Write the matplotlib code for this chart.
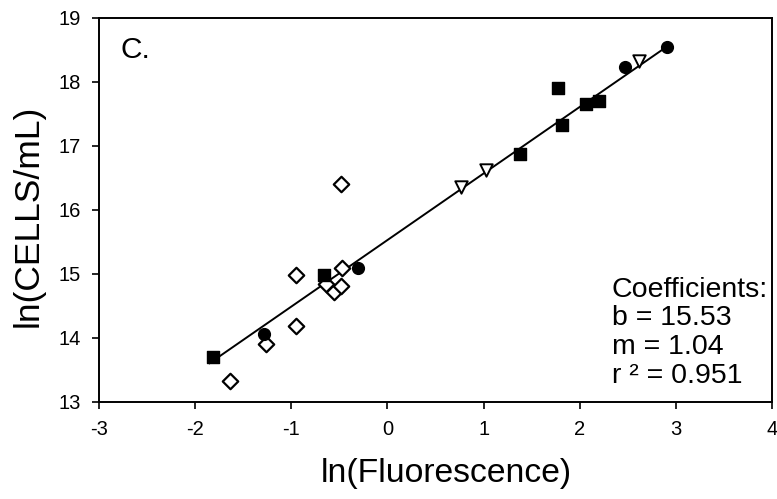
import matplotlib
matplotlib.use("Agg")
import matplotlib.pyplot as plt
import numpy as np

plt.rcParams['font.family'] = ['Liberation Sans', 'DejaVu Sans']
plt.rcParams['axes.unicode_minus'] = False

# data series (ln fluorescence, ln cells/mL)
sq_x = [-1.81, -0.66, 1.38, 1.77, 1.82, 2.07, 2.20]
sq_y = [13.70, 14.99, 16.87, 17.91, 17.32, 17.66, 17.70]

circ_x = [-1.28, -0.31, 2.47, 2.91]
circ_y = [14.06, 15.10, 18.23, 18.54]

tri_x = [0.76, 1.03, 2.62]
tri_y = [16.36, 16.63, 18.32]

dia_x = [-1.64, -1.26, -0.95, -0.95, -0.64, -0.56, -0.48, -0.47, -0.48]
dia_y = [13.33, 13.90, 14.19, 14.99, 14.84, 14.72, 14.82, 15.10, 16.40]

# regression coefficients
b = 15.53
m = 1.04
r2 = 0.951
coef_lines = ['Coefficients:', 'b = %.2f' % b, 'm = %.2f' % m, 'r \u00b2 = %.3f' % r2]

fig = plt.figure(figsize=(7.77, 4.99), dpi=100)
ax = fig.add_axes([0.1274, 0.1944, 0.8662, 0.7696])

line_x = np.array([-1.85, 2.93])
ax.plot(line_x, b + m * line_x, color='black', lw=1.4, zorder=1)

ax.scatter(dia_x, dia_y, marker='D', s=62, facecolors='white', edgecolors='black', linewidths=1.6, zorder=2)
ax.scatter(sq_x, sq_y, marker='s', s=68, color='black', zorder=3)
ax.scatter(circ_x, circ_y, marker='o', s=72, color='black', zorder=3)
ax.scatter(tri_x, tri_y, marker='v', s=80, facecolors='white', edgecolors='black', linewidths=1.4, zorder=3)

ax.set_xlim(-3, 4)
ax.set_ylim(13, 19)
ax.set_xticks(range(-3, 5))
ax.set_yticks(range(13, 20))
ax.tick_params(direction='out', length=5, width=1.2, labelsize=14.5)
ax.tick_params(axis='x', pad=8)
ax.tick_params(axis='y', pad=8)
for s in ax.spines.values():
    s.set_linewidth(1.4)

ax.set_xlabel('ln(Fluorescence)', fontsize=24.3, labelpad=14)
ax.xaxis.label.set_x(0.516)
ax.set_ylabel('ln(CELLS/mL)', fontsize=25.5, labelpad=10)
ax.yaxis.label.set_y(0.485)

ax.text(0.032, 0.895, 'C.', transform=ax.transAxes, fontsize=21.5, va='baseline')

coef_y = [0.274, 0.200, 0.125, 0.049]
for txt, yy in zip(coef_lines, coef_y):
    ax.text(0.762, yy, txt, transform=ax.transAxes, fontsize=20.5, va='baseline')

fig.savefig('out.png', dpi=100)
